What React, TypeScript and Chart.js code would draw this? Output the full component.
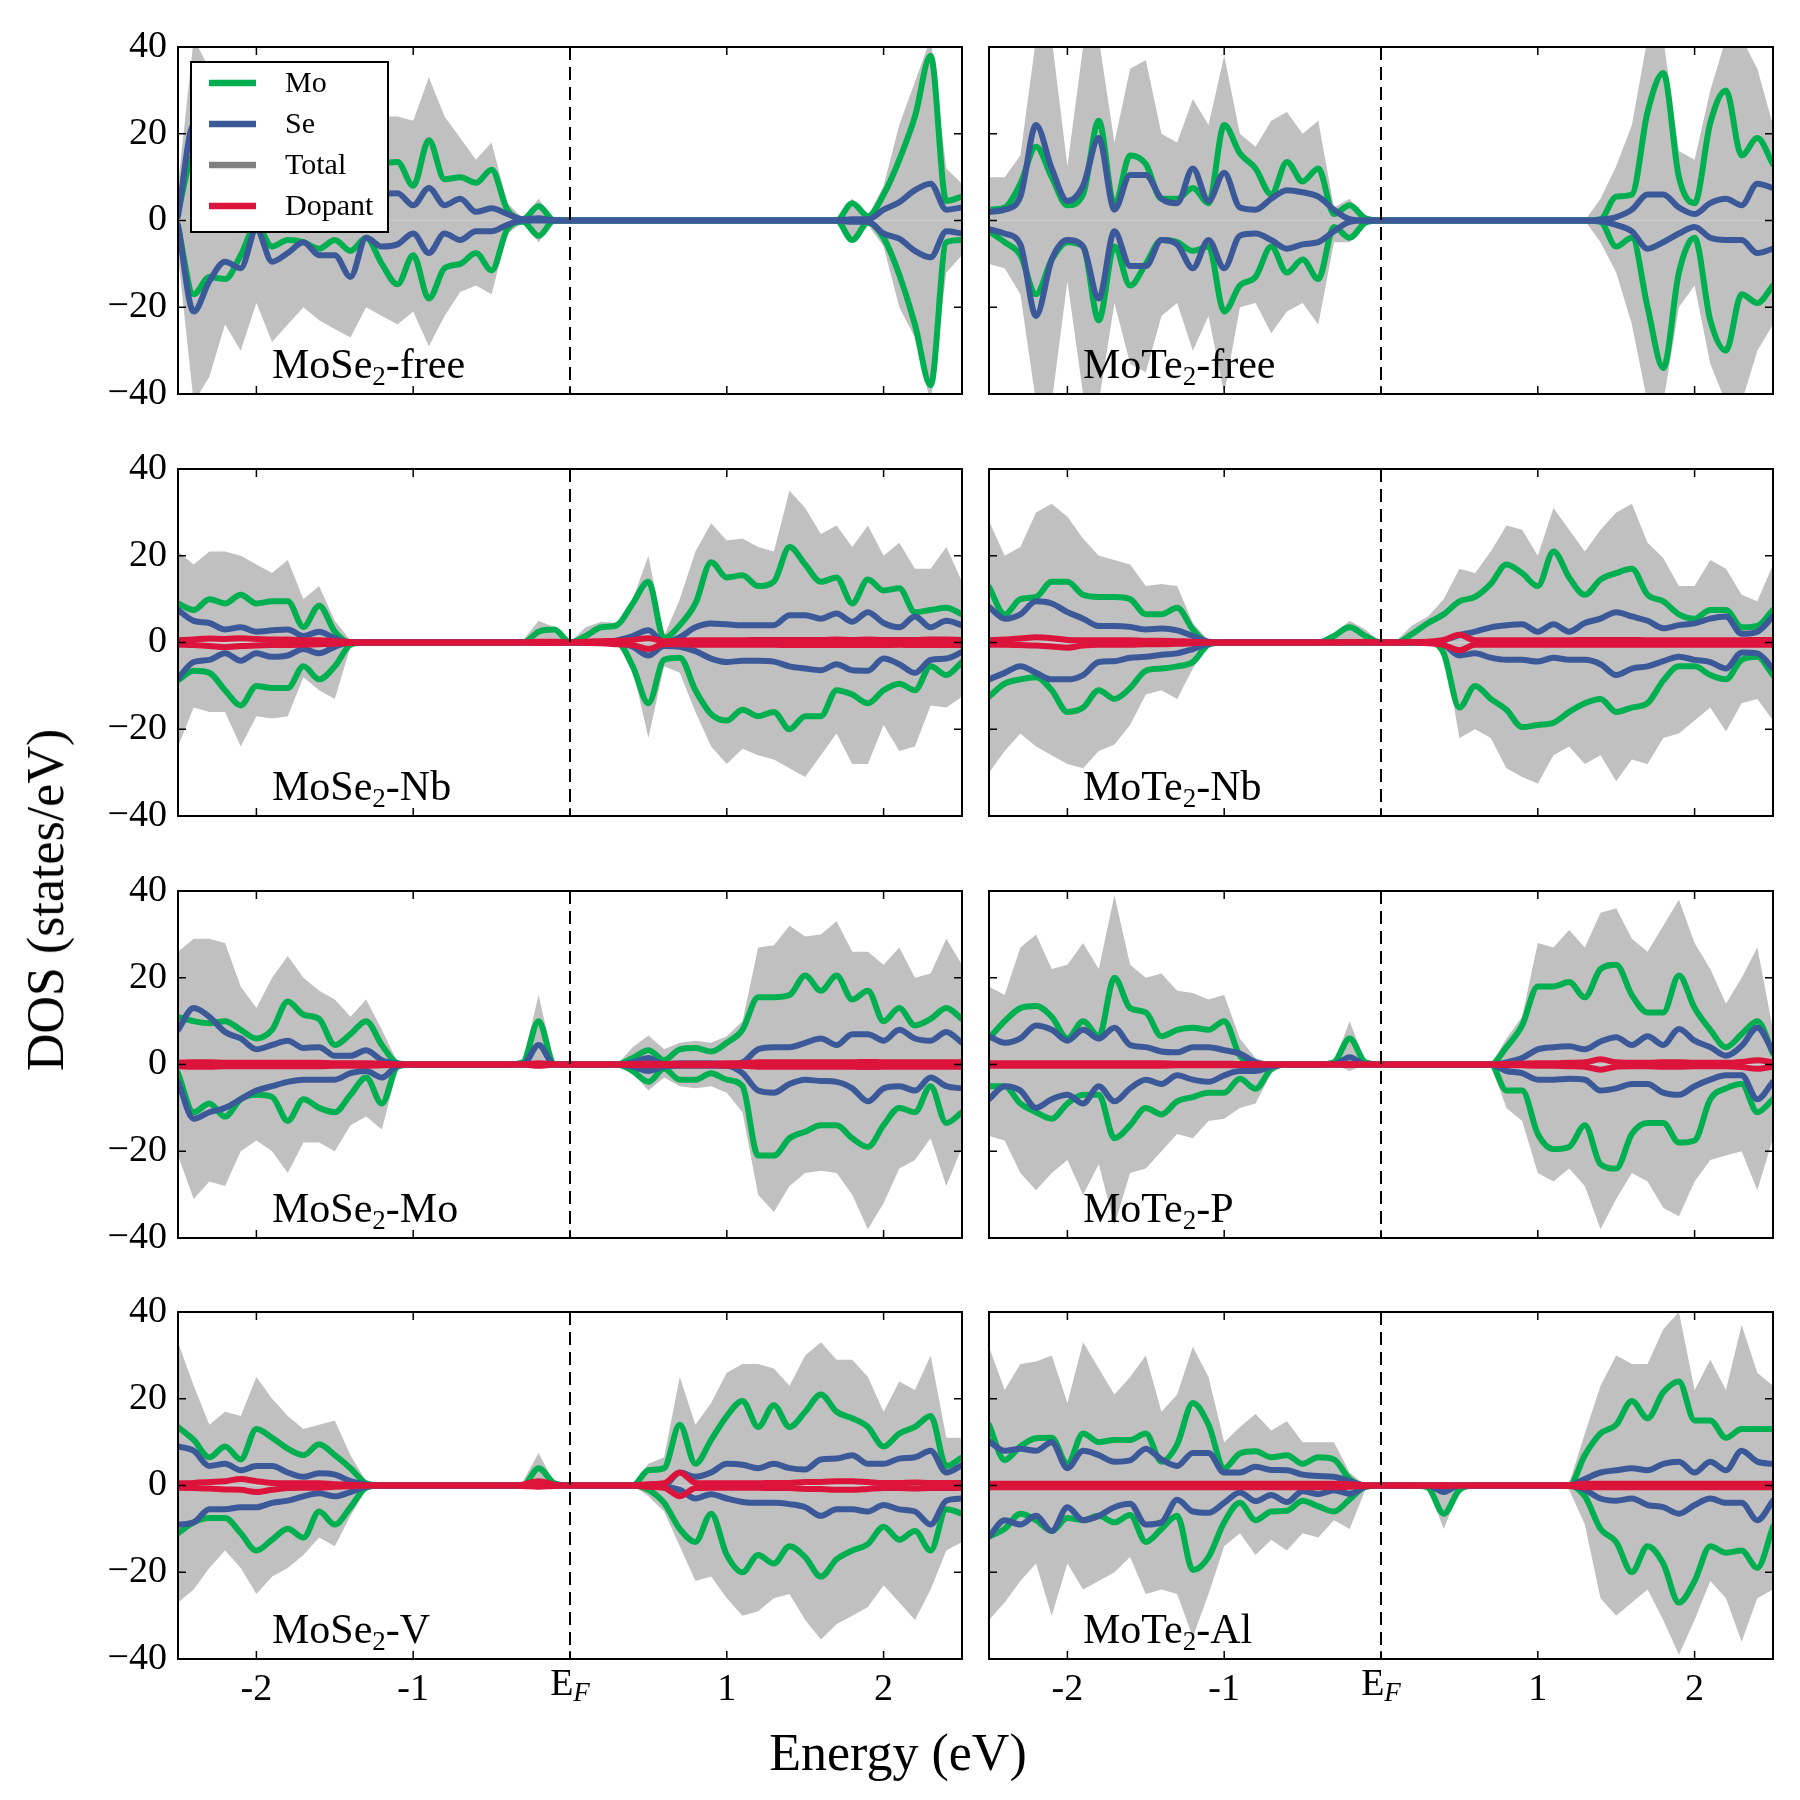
import { useEffect, useRef } from 'react';
import { Chart, registerables } from 'chart.js';

Chart.register(...registerables);

const FONT = "'Liberation Serif', 'Times New Roman', serif";
const MO_COLOR = '#00b050';
const SE_COLOR = '#3b5998';
const TOTAL_FILL = '#c0c0c0';
const TOTAL_LEGEND = '#808080';
const DOPANT_COLOR = '#dc143c';
const LINE_W = 6;

// Energy grid (eV, relative to the Fermi level)
const energies = [
  -2.5, -2.4, -2.3, -2.2, -2.1, -2.0, -1.9, -1.8, -1.7, -1.6,
  -1.5, -1.4, -1.3, -1.2, -1.1, -1.0, -0.9, -0.8, -0.7, -0.6,
  -0.5, -0.4, -0.3, -0.2, -0.1, 0.0, 0.1, 0.2, 0.3, 0.4,
  0.5, 0.6, 0.7, 0.8, 0.9, 1.0, 1.1, 1.2, 1.3, 1.4,
  1.5, 1.6, 1.7, 1.8, 1.9, 2.0, 2.1, 2.2, 2.3, 2.4, 2.5,
];

const xTickValues = [-2, -1, 0, 1, 2];
const yTickValues = [-40, -20, 0, 20, 40];
const legendNames = ['Mo', 'Se', 'Total', 'Dopant'];

// ---------- MoSe2-free ----------
const mose2FreeTotalUp = [
  8, 42, 35, 25, 28, 18, 26, 22, 20, 22,
  24, 26, 20, 24, 24, 23, 33, 24, 19, 14,
  18, 4, 0.5, 5, 0, 0, 0, 0, 0, 0,
  0, 0, 0, 0, 0, 0, 0, 0, 0, 0,
  0, 0, 0, 5, 1, 8, 22, 32, 42, 12, 8.5,
];
const mose2FreeTotalDown = [
  -8, -42, -36, -24, -30, -19, -28, -24, -20, -23,
  -25, -27, -20, -22, -24, -21, -29, -22, -16.5, -15,
  -17, -3, -0.5, -5, 0, 0, 0, 0, 0, 0,
  0, 0, 0, 0, 0, 0, 0, 0, 0, 0,
  0, 0, 0, -4, -1, -6, -20, -27, -42, -12, -8,
];
const mose2FreeMoUp = [
  2, 15, 12, 10, 8, 2, 6, 5, 6, 7,
  5, 8, 6, 13, 13.5, 8, 18.5, 9.5, 10, 8.7,
  11.7, 2.5, 0.3, 3.3, 0, 0, 0, 0, 0, 0,
  0, 0, 0, 0, 0, 0, 0, 0, 0, 0,
  0, 0, 0, 4, 1, 6, 14, 24, 38, 4.5, 5.5,
];
const mose2FreeMoDown = [
  -1.5, -17, -13, -13.5, -8, -1, -6, -4.5, -5, -6.5,
  -4.5, -7, -4, -10, -14.7, -8, -18, -11, -10, -7.5,
  -11.5, -2, -0.3, -3.5, 0, 0, 0, 0, 0, 0,
  0, 0, 0, 0, 0, 0, 0, 0, 0, 0,
  0, 0, 0, -4.5, -0.5, -4, -12.5, -24, -38, -5, -4.5,
];
const mose2FreeSeUp = [
  1, 22, 15, 12, 12, 2, 10, 8, 7, 8,
  6, 8, 5, 6, 6.3, 3.5, 7.5, 3.5, 5, 2,
  2.8, 1.5, 0.3, 0.5, 0, 0, 0, 0, 0, 0,
  0, 0, 0, 0, 0, 0, 0, 0, 0, 0,
  0, 0, 0, 0.3, 0.3, 2.5, 4.2, 7, 8.5, 2.5, 3,
];
const mose2FreeSeDown = [
  -1, -21, -14, -9.5, -11, -2, -9.5, -7.5, -5, -8,
  -8, -13, -4, -6, -5.5, -3, -7.5, -3, -4.5, -2.5,
  -2.5, -1, 0, 0, 0, 0, 0, 0, 0, 0,
  0, 0, 0, 0, 0, 0, 0, 0, 0, 0,
  0, 0, 0, -0.3, -0.3, -3, -4.2, -7, -8.5, -2.5, -3,
];

// ---------- MoTe2-free ----------
const mote2FreeTotalUp = [
  10, 10, 15, 42, 42, 12.5, 40, 42, 18, 35,
  37, 20, 18, 28, 22, 38, 20, 17, 23, 25,
  20, 23, 3, 5, 0.5, 0, 0, 0, 0, 0,
  0, 0, 0, 0, 0, 0, 0, 0, 0, 5,
  12.5, 22, 42, 42, 16, 14, 30, 42, 42, 35, 22,
];
const mote2FreeTotalDown = [
  -10, -11, -17, -42, -42, -14, -40, -42, -19, -33,
  -35, -22, -19, -30, -22, -40, -20, -19, -26, -21,
  -19, -24, -5, -5, -0.5, 0, 0, 0, 0, 0,
  0, 0, 0, 0, 0, 0, 0, 0, 0, -5,
  -12, -24, -42, -42, -20, -15, -33, -42, -42, -30, -24,
];
const mote2FreeMoUp = [
  2.5, 3, 8.5, 17, 10, 3.5, 6, 23, 3.5, 15,
  13, 5, 5, 7.5, 4, 22, 15.5, 12, 6, 13.5,
  9, 12, 1.5, 3.5, 0.5, 0, 0, 0, 0, 0,
  0, 0, 0, 0, 0, 0, 0, 0, 0, 0.3,
  5.5, 6, 25, 34, 10, 4, 22.5, 30, 15, 19, 13,
];
const mote2FreeMoDown = [
  -2.5, -5, -8, -17, -9, -5, -6, -23, -6, -15,
  -10, -4.5, -5, -7, -6, -21, -15, -13, -6, -12,
  -9, -13.5, -1.5, -4, -0.5, 0, 0, 0, 0, 0,
  0, 0, 0, 0, 0, 0, 0, 0, 0, -0.3,
  -6, -4, -20, -34, -12, -4, -23, -30, -17, -19, -15,
];
const mote2FreeSeUp = [
  2, 2.5, 5.5, 22, 12, 4.5, 8, 19, 2.5, 10.5,
  10.5, 5, 4, 12, 4.5, 11, 3, 2.5, 5, 7,
  6.5, 5.5, 2.5, 0.3, 0, 0, 0, 0, 0, 0,
  0, 0, 0, 0, 0, 0, 0, 0, 0, 0.2,
  0.8, 2.5, 6, 6, 3, 1.5, 4, 5, 3.5, 8.5, 7.5,
];
const mote2FreeSeDown = [
  -2, -3, -5.5, -22, -9, -4.5, -6, -18, -2.5, -10.5,
  -10.5, -4.5, -5.5, -11, -4.5, -11, -3.5, -3, -4.5, -6.5,
  -5.5, -5, -2.5, -0.3, 0, 0, 0, 0, 0, 0,
  0, 0, 0, 0, 0, 0, 0, 0, 0, -0.2,
  -1, -2.5, -6.5, -5, -3, -1.5, -4, -4.5, -4.5, -7.5, -6.5,
];

// ---------- MoSe2-Nb ----------
const mose2NbTotalUp = [
  21, 18, 21, 21, 20, 18, 16, 19, 10, 13,
  5, 0.5, 0, 0, 0, 0, 0, 0, 0, 0,
  0, 0, 0.5, 5, 3.5, 0, 3.5, 4.8, 4.5, 10,
  20, 1.5, 10, 21, 27.5, 23.5, 24, 22, 21, 35,
  31, 25, 27, 22, 27, 20, 23, 17, 17, 22, 14,
];
const mose2NbTotalDown = [
  -24, -15, -16, -16, -24, -17, -17.5, -17, -8, -11,
  -13, -1, 0, 0, 0, 0, 0, 0, 0, 0,
  0, 0, 0, 0, 0, 0, 0, 0, 0, -6,
  -22, -5.5, -7, -16, -24, -28, -24.5, -26, -27, -29,
  -31, -26, -21, -28, -28, -19, -25, -24, -14.5, -15, -12.5,
];
const mose2NbMoUp = [
  9, 7.5, 10, 9, 11, 9, 9.5, 9.5, 3.6, 8.5,
  2.5, 0, 0, 0, 0, 0, 0, 0, 0, 0,
  0, 0, 0, 2.5, 3, 0, 1.5, 3.5, 4, 9,
  14, 1, 4, 9, 18.5, 15, 15.5, 13, 14, 22,
  18, 14, 15, 9, 14.5, 12, 12.5, 7, 7.5, 8, 6.5,
];
const mose2NbMoDown = [
  -8.7, -6.5, -7, -11, -14.5, -10, -10.5, -10.5, -5.5, -8.5,
  -5.5, -0.5, 0, 0, 0, 0, 0, 0, 0, 0,
  0, 0, 0, 0, 0, 0, 0, 0, 0, -5.5,
  -14, -4, -3.5, -11, -16.5, -18, -15.5, -17, -16, -20,
  -17, -17, -11, -12, -14, -11, -9.5, -11, -5.5, -7.5, -4.5,
];
const mose2NbSeUp = [
  7.5, 5, 4.5, 3, 3.5, 2.5, 2.8, 3, 1.5, 2.5,
  1, 0, 0, 0, 0, 0, 0, 0, 0, 0,
  0, 0, 0, 0, 0, 0, 0, 0, 0.5, 1.5,
  2.8, 0, 1.2, 3.5, 4.4, 4.2, 4, 4, 4, 6.3,
  6.3, 5.5, 6.7, 4.8, 7, 4.5, 3.5, 6, 3.5, 5, 4,
];
const mose2NbSeDown = [
  -8.3, -4.5, -4, -2.5, -4.2, -2.5, -3.3, -3, -1.5, -2.5,
  -1, 0, 0, 0, 0, 0, 0, 0, 0, 0,
  0, 0, 0, 0, 0, 0, 0, 0, 0, -1,
  -3, -0.8, -1, -2, -3.7, -4.5, -4.2, -4.2, -4.4, -5.5,
  -6, -6.4, -5, -6.4, -6.5, -3.7, -5, -7, -4, -3.7, -2.2,
];
const mose2NbDopantUp = [
  0.5, 0.7, 0.9, 0.8, 1, 0.8, 0.7, 0.7, 0.5, 0.5,
  0.3, 0.1, 0, 0, 0, 0, 0, 0, 0, 0,
  0, 0, 0, 0.2, 0.2, 0, 0.2, 0.3, 0.4, 0.6,
  1, 0.3, 0.4, 0.5, 0.5, 0.5, 0.5, 0.6, 0.6, 0.6,
  0.6, 0.6, 0.7, 0.6, 0.7, 0.6, 0.6, 0.6, 0.7, 0.7, 0.6,
];
const mose2NbDopantDown = [
  -0.5, -0.6, -0.8, -1.1, -0.8, -0.7, -0.6, -0.6, -0.5, -0.4,
  -0.3, -0.1, 0, 0, 0, 0, 0, 0, 0, 0,
  0, 0, 0, -0.1, -0.1, 0, -0.1, -0.2, -0.4, -0.6,
  -1.5, -0.4, -0.4, -0.5, -0.5, -0.5, -0.5, -0.5, -0.5, -0.6,
  -0.6, -0.6, -0.6, -0.6, -0.6, -0.6, -0.5, -0.6, -0.6, -0.6, -0.6,
];

// ---------- MoTe2-Nb ----------
const mote2NbTotalUp = [
  28, 20, 22, 30, 32, 29, 24, 20, 19, 18,
  13, 13.5, 13, 4.5, 0.5, 0, 0, 0, 0, 0,
  0, 0, 2, 5, 3, 0, 0.5, 4, 6, 10,
  17, 16, 21, 27, 26, 20, 31, 26, 21, 26,
  30, 32, 23, 19.5, 13, 13, 19, 17, 11, 9.5, 18,
];
const mote2NbTotalDown = [
  -30, -25, -21, -24, -26, -28, -29, -25, -23.5, -19,
  -12, -11, -13, -6, -0.5, 0, 0, 0, 0, 0,
  0, 0, 0, 0, 0, 0, 0, 0, 0, -1,
  -22, -20, -22, -29, -31, -32.5, -26, -24, -28, -26,
  -32, -27, -28, -22, -21, -18, -15, -20.5, -14, -13, -18,
];
const mote2NbMoUp = [
  12.8, 6.5, 10, 10.5, 14, 14, 11, 10.5, 10.5, 10,
  6.5, 6.5, 8, 3, 0, 0, 0, 0, 0, 0,
  0, 0, 1.5, 3.5, 1.5, 0, 0, 2, 4.5, 6.5,
  9.5, 10.5, 13.5, 18, 16, 13, 21, 15, 11, 14.5,
  16, 17, 11, 9.5, 6.5, 5.5, 7.5, 7.5, 3.5, 3.8, 7.5,
];
const mote2NbMoDown = [
  -12.5, -9.5, -8.5, -8, -11, -16, -15, -11, -13, -10.5,
  -6.5, -6, -5.5, -4.5, -0.5, 0, 0, 0, 0, 0,
  0, 0, 0, 0, 0, 0, 0, 0, 0, -2.5,
  -15, -10, -13, -15.5, -19.5, -19, -18.5, -16, -14, -13,
  -16, -15, -14, -8.8, -5.5, -5.5, -7.5, -8.5, -4, -3.3, -7.5,
];
const mote2NbSeUp = [
  8.2, 5.5, 6.5, 9.5, 9, 7, 5.5, 3.8, 3.8, 3.6,
  3, 3.2, 2.8, 1.5, 0.2, 0, 0, 0, 0, 0,
  0, 0, 0, 0, 0, 0, 0, 0, 0, 0.5,
  1.7, 2.5, 3.5, 4, 4.2, 2.5, 4.2, 2.5, 4.5, 5.5,
  7, 6, 5, 3.3, 4, 4.4, 5.5, 6, 2, 2.5, 6,
];
const mote2NbSeDown = [
  -8.5, -7, -5.5, -7, -8.5, -8.5, -7.5, -4.5, -4.3, -3.5,
  -3.3, -2.8, -2.5, -1.5, -0.3, 0, 0, 0, 0, 0,
  0, 0, 0, 0, 0, 0, 0, 0, 0, -0.5,
  -3, -2.5, -3.5, -4, -4, -4.4, -3.5, -4, -4, -5,
  -7.5, -6, -5.5, -4.3, -3.3, -4, -4.5, -6, -2.3, -2.5, -6,
];
const mote2NbDopantUp = [
  0.5, 0.7, 0.9, 1.2, 1, 0.6, 0.5, 0.5, 0.5, 0.5,
  0.4, 0.4, 0.3, 0.2, 0, 0, 0, 0, 0, 0,
  0, 0, 0, 0.1, 0.1, 0, 0, 0.1, 0.2, 0.6,
  1.8, 0.5, 0.5, 0.5, 0.5, 0.5, 0.5, 0.5, 0.6, 0.6,
  0.6, 0.6, 0.5, 0.5, 0.5, 0.5, 0.5, 0.5, 0.5, 0.6, 0.6,
];
const mote2NbDopantDown = [
  -0.5, -0.5, -0.6, -0.7, -0.9, -1.2, -0.7, -0.5, -0.5, -0.5,
  -0.4, -0.4, -0.3, -0.2, 0, 0, 0, 0, 0, 0,
  0, 0, 0, 0, 0, 0, 0, 0, -0.2, -0.6,
  -1.8, -0.5, -0.5, -0.5, -0.5, -0.5, -0.5, -0.5, -0.5, -0.5,
  -0.5, -0.5, -0.5, -0.5, -0.5, -0.5, -0.5, -0.5, -0.5, -0.5, -0.5,
];

// ---------- MoSe2-Mo ----------
const mose2MoTotalUp = [
  26, 29, 29, 28, 18, 13, 20, 25, 20, 17,
  15, 11, 15, 8, 0.5, 0, 0, 0, 0, 0,
  0, 0, 1, 16, 0, 0, 0, 0, 0, 4,
  6.7, 3.5, 5, 5.5, 5, 6.5, 10, 27, 27.5, 32,
  29.5, 30, 33, 26, 26, 23, 27, 20, 21, 29, 23,
];
const mose2MoTotalDown = [
  -21, -31, -27, -28, -20, -17.5, -20, -25, -18, -18,
  -20, -14, -12, -15, -1, 0, 0, 0, 0, 0,
  0, 0, 0, -1, 0, 0, 0, 0, 0, -2,
  -6, -3, -5, -5.5, -5, -6.5, -11, -30, -34, -28,
  -25, -24.5, -25, -30, -38, -32, -24, -22, -17, -28, -19,
];
const mose2MoMoUp = [
  11, 10, 9.5, 10, 8, 6, 8, 14.5, 11.5, 10.5,
  4.5, 7, 10, 4.5, 0.3, 0, 0, 0, 0, 0,
  0, 0, 0.5, 10, 0, 0, 0, 0, 0, 1.5,
  3.3, 1, 3.5, 3.8, 3, 5, 8, 15.5, 15.5, 16,
  20.5, 17, 20.5, 15, 17, 10, 13, 9, 10.5, 13, 10.5,
];
const mose2MoMoDown = [
  -2, -11, -9, -12, -8, -7, -7.5, -13, -8, -10,
  -11, -7, -3, -9, -0.5, 0, 0, 0, 0, 0,
  0, 0, 0, 0, 0, 0, 0, 0, 0, -1.5,
  -4, -1, -3.5, -3.5, -2, -3.5, -5, -21, -21, -17,
  -15.5, -14, -14, -17, -19, -14, -10, -11, -5, -13.5, -11,
];
const mose2MoSeUp = [
  8, 13, 11, 7.5, 6, 3.5, 4.5, 5.5, 3.8, 4,
  2, 2, 3.3, 1, 0.2, 0, 0, 0, 0, 0,
  0, 0, 0, 4.5, 0, 0, 0, 0, 0, 0.5,
  1.5, 0, 0.3, 0.3, 0.3, 0, 0.5, 3.5, 4, 4,
  5, 6, 4.5, 7, 7, 5.5, 8, 6, 5.5, 7.5, 5,
];
const mose2MoSeDown = [
  -4, -12.5, -11, -10, -8, -6, -5, -4, -3.5, -3.5,
  -3.5, -2, -1.5, -3, -0.3, 0, 0, 0, 0, 0,
  0, 0, 0, 0, 0, 0, 0, 0, 0, -0.5,
  -1.5, -0.5, -0.3, -0.3, -0.3, -0.3, -2, -6, -6.5, -4.5,
  -3.5, -3.8, -4, -5.5, -8.5, -5.5, -5, -6, -3, -5, -5.5,
];
const mose2MoDopantUp = [
  0.4, 0.5, 0.5, 0.4, 0.4, 0.4, 0.4, 0.4, 0.4, 0.4,
  0.3, 0.3, 0.3, 0.2, 0, 0, 0, 0, 0, 0,
  0, 0, 0, 0.3, 0, 0, 0, 0, 0, 0.1,
  0.2, 0.1, 0.2, 0.2, 0.2, 0.3, 0.3, 0.5, 0.5, 0.5,
  0.5, 0.5, 0.5, 0.5, 0.6, 0.5, 0.5, 0.5, 0.5, 0.5, 0.5,
];
const mose2MoDopantDown = [
  -0.4, -0.5, -0.5, -0.4, -0.4, -0.4, -0.4, -0.4, -0.4, -0.4,
  -0.3, -0.3, -0.3, -0.2, 0, 0, 0, 0, 0, 0,
  0, 0, 0, -0.3, 0, 0, 0, 0, 0, -0.1,
  -0.2, -0.1, -0.2, -0.2, -0.2, -0.3, -0.3, -0.5, -0.5, -0.5,
  -0.5, -0.5, -0.5, -0.5, -0.6, -0.5, -0.5, -0.5, -0.5, -0.5, -0.5,
];

// ---------- MoTe2-P ----------
const mote2PTotalUp = [
  18, 16, 27, 30, 22, 23, 28, 22, 39, 23,
  20, 21, 17, 16.5, 15, 16, 6, 1.5, 0.3, 0,
  0, 0, 0.5, 10, 0.5, 0, 0, 0, 0, 0,
  0, 0, 0, 6, 11, 28, 27, 31, 27, 35,
  36, 29, 26, 32, 38, 28, 22, 14, 20, 27, 8,
];
const mote2PTotalDown = [
  -16.5, -17.5, -25, -29, -25, -22, -30, -23, -37, -25,
  -24, -20, -16, -17, -13, -12.5, -10, -9, -2, 0,
  0, 0, 0, -1.5, 0, 0, 0, 0, 0, 0,
  0, 0, 0, -10, -13, -25, -27, -24, -28, -38,
  -31, -25, -27, -33, -35, -27, -22, -21, -20, -29, -17,
];
const mote2PMoUp = [
  6, 10, 13, 13.5, 11, 6, 10, 6.5, 20, 13,
  12, 6.5, 8, 8.5, 8, 10, 2, 0, 0, 0,
  0, 0, 0.5, 6, 0.5, 0, 0, 0, 0, 0,
  0, 0, 0, 4, 9, 18, 18, 19, 15.5, 22,
  23, 16, 12, 12, 20.5, 13, 8, 4, 7, 10, 2.5,
];
const mote2PMoDown = [
  -5, -5, -9, -11, -12.5, -9, -7, -7, -17, -14,
  -10, -11.5, -8.5, -7.5, -6.5, -6.5, -3.3, -5.6, -1, 0,
  0, 0, 0, 0, 0, 0, 0, 0, 0, 0,
  0, 0, 0, -6, -6, -16, -19.5, -19, -14, -23,
  -24, -16, -13.5, -13.5, -18, -17.5, -8, -5.5, -4.5, -11, -8,
];
const mote2PSeUp = [
  6.5, 5, 6, 9, 8, 5.5, 8, 6, 8.5, 4.5,
  4, 3, 2.8, 4, 4, 3.3, 2.5, 0.5, 0, 0,
  0, 0, 0, 1.7, 0, 0, 0, 0, 0, 0,
  0, 0, 0, 0.5, 1.5, 3.5, 4, 4.2, 3.5, 5.3,
  6.3, 4.5, 6.5, 4.5, 8.2, 5.5, 4, 2, 4.3, 8.5, 3,
];
const mote2PSeDown = [
  -8, -5, -6, -10, -8, -7, -9, -5, -8.5, -5.5,
  -3.5, -4.5, -2.5, -3.5, -4, -2.5, -1.5, -1.5, -0.5, 0,
  0, 0, 0, 0, 0, 0, 0, 0, 0, 0,
  0, 0, 0, -1.5, -2, -3.5, -3.5, -3.3, -3.5, -6,
  -5.5, -4.5, -4.5, -6.5, -7, -5, -3.5, -2.5, -2.5, -8, -4,
];
const mote2PDopantUp = [
  0.3, 0.3, 0.3, 0.3, 0.3, 0.3, 0.3, 0.3, 0.3, 0.3,
  0.3, 0.3, 0.2, 0.2, 0.2, 0.2, 0.1, 0.1, 0, 0,
  0, 0, 0, 0.1, 0, 0, 0, 0, 0, 0,
  0, 0, 0, 0.1, 0.2, 0.3, 0.3, 0.4, 0.5, 1.2,
  0.5, 0.4, 0.4, 0.5, 0.5, 0.4, 0.4, 0.4, 0.6, 1, 0.5,
];
const mote2PDopantDown = [
  -0.3, -0.3, -0.3, -0.3, -0.3, -0.3, -0.3, -0.3, -0.3, -0.3,
  -0.3, -0.3, -0.2, -0.2, -0.2, -0.2, -0.1, -0.1, 0, 0,
  0, 0, 0, -0.1, 0, 0, 0, 0, 0, 0,
  0, 0, 0, -0.1, -0.2, -0.3, -0.3, -0.4, -0.5, -1.2,
  -0.5, -0.4, -0.4, -0.5, -0.5, -0.4, -0.4, -0.4, -0.6, -1, -0.5,
];

// ---------- MoSe2-V ----------
const mose2VTotalUp = [
  33, 23, 14, 17, 16, 25, 20, 16, 13, 14,
  15, 7, 1, 0, 0, 0, 0, 0, 0, 0,
  0, 0, 1, 7.5, 0.5, 0, 0, 0, 0, 0.5,
  5, 6.5, 25, 14, 19, 26, 28, 28, 27, 23,
  30, 33, 29, 29, 25, 17, 24, 22, 30, 11, 11,
];
const mose2VTotalDown = [
  -27, -24, -19, -15, -19, -25, -21, -19, -16, -12,
  -14, -7, -1, 0, 0, 0, 0, 0, 0, 0,
  0, 0, 0, -1, 0, 0, 0, 0, 0, 0,
  -2.5, -6, -14, -22, -21, -26, -30, -29, -26, -25,
  -31, -35.5, -32, -30, -28, -23, -27, -31, -24, -15, -13,
];
const mose2VMoUp = [
  13.5, 10.5, 6.5, 9, 6, 13, 11, 8.5, 7, 9.5,
  7, 4, 0.5, 0, 0, 0, 0, 0, 0, 0,
  0, 0, 0, 4, 0.5, 0, 0, 0, 0, 0,
  3.5, 4, 14, 5, 10.5, 16, 19.5, 13.5, 18.5, 13.5,
  17, 21, 17, 15.5, 13.5, 9, 12, 13.5, 16, 4.5, 6.5,
];
const mose2VMoDown = [
  -11, -8.5, -7.5, -7.5, -11, -15, -12.5, -10, -12, -6,
  -9, -5, -0.5, 0, 0, 0, 0, 0, 0, 0,
  0, 0, 0, 0, 0, 0, 0, 0, 0, 0,
  -1, -4, -10, -13, -6.5, -16, -20, -16, -18, -14,
  -16.5, -21, -17, -15, -13.5, -9.5, -12.5, -10.5, -15, -5.5, -6.5,
];
const mose2VSeUp = [
  9, 8, 4.5, 5, 3.5, 4.5, 4.5, 3, 2, 2.8,
  2.5, 1, 0.2, 0, 0, 0, 0, 0, 0, 0,
  0, 0, 0, 0, 0, 0, 0, 0, 0, 0,
  0, 0, 3, 2, 3, 5, 4.8, 4, 5, 4,
  3.7, 6, 6.2, 7, 5, 5, 6.2, 6.5, 8, 3, 4.7,
];
const mose2VSeDown = [
  -9, -8.5, -5.5, -5.5, -5, -5, -4, -3.5, -2.5, -1.8,
  -2.5, -1.5, -0.3, 0, 0, 0, 0, 0, 0, 0,
  0, 0, 0, 0, 0, 0, 0, 0, 0, 0,
  0, -0.3, -1, -3, -2, -3, -3.8, -4, -4, -4.3,
  -5, -7, -5.5, -5.5, -6, -4.5, -5.5, -6, -9, -3.5, -3,
];
const mose2VDopantUp = [
  0.5, 0.6, 0.8, 1, 1.5, 1, 0.6, 0.5, 0.5, 0.5,
  0.3, 0.2, 0, 0, 0, 0, 0, 0, 0, 0,
  0, 0, 0.2, 1, 0.2, 0, 0, 0, 0, 0,
  0.3, 0.5, 3, 0.6, 0.5, 0.5, 0.5, 0.5, 0.6, 0.6,
  0.8, 0.8, 1, 1, 0.8, 0.6, 0.6, 0.7, 0.6, 0.6, 0.6,
];
const mose2VDopantDown = [
  -0.5, -0.6, -0.7, -0.9, -1, -1.5, -1, -0.6, -0.5, -0.5,
  -0.3, -0.2, 0, 0, 0, 0, 0, 0, 0, 0,
  0, 0, -0.1, -0.3, -0.1, 0, 0, 0, 0, 0,
  -0.3, -0.5, -2.5, -0.6, -0.5, -0.5, -0.5, -0.5, -0.6, -0.6,
  -0.8, -0.8, -1, -1, -0.8, -0.6, -0.6, -0.7, -0.6, -0.6, -0.6,
];

// ---------- MoTe2-Al ----------
const mote2AlTotalUp = [
  32, 22, 28, 28.6, 30, 19, 33, 27, 21, 25,
  30, 17, 21, 32, 25, 10, 13.5, 16.5, 12.7, 14.8,
  10, 10, 10, 3, 0, 0, 0, 0, 0, 0,
  0, 0, 0, 0, 0, 0, 0, 0.5, 12, 23,
  30, 28, 28, 36, 40, 22, 29, 22, 37, 26, 23,
];
const mote2AlTotalDown = [
  -31, -27, -22, -18, -30, -18, -24, -22, -20, -16.5,
  -25, -24, -25, -35, -25, -14, -11, -16, -12.5, -15,
  -11, -12, -8, -10, -1, 0, 0, 0, -0.5, -10,
  -1, 0, 0, 0, 0, 0, 0, -1, -9, -26,
  -30, -27, -24, -31, -39, -31, -22, -26, -36, -26, -24,
];
const mote2AlMoUp = [
  14, 5.9, 9, 10.9, 11, 5, 12, 10, 10.5, 10.5,
  12, 5.5, 9.5, 19, 14, 4, 7.4, 7.9, 6.5, 7,
  5, 6.5, 6, 1.5, 0, 0, 0, 0, 0, 0,
  0, 0, 0, 0, 0, 0, 0, 0, 7, 12,
  14, 19.5, 15.5, 21.5, 24, 15, 15, 11, 13, 13, 13,
];
const mote2AlMoDown = [
  -11.8, -10, -6.5, -8, -10.5, -7.5, -8, -7, -8.5, -6.8,
  -13, -10, -7, -19.5, -16.5, -8.5, -4, -8, -6, -5.8,
  -3.5, -4.8, -6, -3.2, -0.3, 0, 0, 0, -0.5, -6.5,
  -1, 0, 0, 0, 0, 0, 0, 0, -2.5, -10,
  -13, -20, -14, -18, -27, -22, -14, -15.5, -15, -19, -9.5,
];
const mote2AlSeUp = [
  10.2, 8, 8.5, 8, 10, 4, 8, 7, 5.5, 5.8,
  8.5, 6, 4.5, 7.5, 7.5, 3, 3, 4.3, 3.6, 3.5,
  2.5, 2.2, 2, 1, 0, 0, 0, 0, 0, 0,
  0, 0, 0, 0, 0, 0, 0, 0, 1.5, 3,
  3.5, 4, 3.5, 5, 5.5, 3, 5.5, 3.5, 8, 5.5, 5,
];
const mote2AlSeDown = [
  -11.8, -8, -9, -7, -10.5, -5, -8, -7, -5, -4.2,
  -9, -8.5, -3.3, -6, -6.3, -4, -1.6, -3.6, -2.2, -3.8,
  -1.3, -2, -1.1, -1.9, -0.3, 0, 0, 0, 0, -1.5,
  0, 0, 0, 0, 0, 0, 0, 0, -1, -3,
  -3.5, -3, -4.5, -5, -6.5, -4.5, -3, -4, -4, -8, -3.5,
];
const mote2AlDopantUp = [
  0.4, 0.4, 0.4, 0.4, 0.4, 0.4, 0.4, 0.4, 0.4, 0.4,
  0.4, 0.4, 0.4, 0.4, 0.4, 0.4, 0.4, 0.4, 0.4, 0.4,
  0.4, 0.4, 0.4, 0.3, 0.1, 0, 0, 0, 0, 0.1,
  0, 0, 0, 0, 0, 0, 0, 0.1, 0.4, 0.4,
  0.4, 0.4, 0.4, 0.4, 0.4, 0.4, 0.4, 0.4, 0.4, 0.4, 0.4,
];
const mote2AlDopantDown = [
  -0.4, -0.4, -0.4, -0.4, -0.4, -0.4, -0.4, -0.4, -0.4, -0.4,
  -0.4, -0.4, -0.4, -0.4, -0.4, -0.4, -0.4, -0.4, -0.4, -0.4,
  -0.4, -0.4, -0.4, -0.3, -0.1, 0, 0, 0, 0, -0.1,
  0, 0, 0, 0, 0, 0, 0, -0.1, -0.4, -0.4,
  -0.4, -0.4, -0.4, -0.4, -0.4, -0.4, -0.4, -0.4, -0.4, -0.4, -0.4,
];

type Panel = {
  base: string;
  sub: string;
  tail: string;
  totalUp: number[];
  totalDown: number[];
  moUp: number[];
  moDown: number[];
  seUp: number[];
  seDown: number[];
  dopantUp?: number[];
  dopantDown?: number[];
};

const panels: Panel[] = [
  { base: 'MoSe', sub: '2', tail: '-free', totalUp: mose2FreeTotalUp, totalDown: mose2FreeTotalDown, moUp: mose2FreeMoUp, moDown: mose2FreeMoDown, seUp: mose2FreeSeUp, seDown: mose2FreeSeDown },
  { base: 'MoTe', sub: '2', tail: '-free', totalUp: mote2FreeTotalUp, totalDown: mote2FreeTotalDown, moUp: mote2FreeMoUp, moDown: mote2FreeMoDown, seUp: mote2FreeSeUp, seDown: mote2FreeSeDown },
  { base: 'MoSe', sub: '2', tail: '-Nb', totalUp: mose2NbTotalUp, totalDown: mose2NbTotalDown, moUp: mose2NbMoUp, moDown: mose2NbMoDown, seUp: mose2NbSeUp, seDown: mose2NbSeDown, dopantUp: mose2NbDopantUp, dopantDown: mose2NbDopantDown },
  { base: 'MoTe', sub: '2', tail: '-Nb', totalUp: mote2NbTotalUp, totalDown: mote2NbTotalDown, moUp: mote2NbMoUp, moDown: mote2NbMoDown, seUp: mote2NbSeUp, seDown: mote2NbSeDown, dopantUp: mote2NbDopantUp, dopantDown: mote2NbDopantDown },
  { base: 'MoSe', sub: '2', tail: '-Mo', totalUp: mose2MoTotalUp, totalDown: mose2MoTotalDown, moUp: mose2MoMoUp, moDown: mose2MoMoDown, seUp: mose2MoSeUp, seDown: mose2MoSeDown, dopantUp: mose2MoDopantUp, dopantDown: mose2MoDopantDown },
  { base: 'MoTe', sub: '2', tail: '-P', totalUp: mote2PTotalUp, totalDown: mote2PTotalDown, moUp: mote2PMoUp, moDown: mote2PMoDown, seUp: mote2PSeUp, seDown: mote2PSeDown, dopantUp: mote2PDopantUp, dopantDown: mote2PDopantDown },
  { base: 'MoSe', sub: '2', tail: '-V', totalUp: mose2VTotalUp, totalDown: mose2VTotalDown, moUp: mose2VMoUp, moDown: mose2VMoDown, seUp: mose2VSeUp, seDown: mose2VSeDown, dopantUp: mose2VDopantUp, dopantDown: mose2VDopantDown },
  { base: 'MoTe', sub: '2', tail: '-Al', totalUp: mote2AlTotalUp, totalDown: mote2AlTotalDown, moUp: mote2AlMoUp, moDown: mote2AlMoDown, seUp: mote2AlSeUp, seDown: mote2AlSeDown, dopantUp: mote2AlDopantUp, dopantDown: mote2AlDopantDown },
];

// Panel geometry (pixels on the page)
const PLOT_TOPS = [47, 469, 891, 1312];
const PLOT_LEFTS = [178, 989];
const PLOT_W = 784;
const PLOT_H = 347;
const PAD_TOP = 26;
const PAD_RIGHT = 6;

// Frame, inward ticks, Fermi-level marker, panel caption and legend
const dosFramePlugin = {
  id: 'dosFrame',
  afterDatasetsDraw(chart: any, _args: any, opts: any) {
    const { ctx, chartArea: a } = chart;
    const xs = chart.scales.x;
    const ys = chart.scales.y;
    ctx.save();

    // Fermi level
    const x0 = xs.getPixelForValue(0);
    ctx.strokeStyle = '#000';
    ctx.lineWidth = 2;
    ctx.setLineDash([13, 7]);
    ctx.beginPath();
    ctx.moveTo(x0, a.top);
    ctx.lineTo(x0, a.bottom);
    ctx.stroke();
    ctx.setLineDash([]);

    // inward tick marks on all four sides
    ctx.lineWidth = 1.5;
    ctx.beginPath();
    for (const v of xTickValues) {
      const px = xs.getPixelForValue(v);
      ctx.moveTo(px, a.top);
      ctx.lineTo(px, a.top + 8);
      ctx.moveTo(px, a.bottom);
      ctx.lineTo(px, a.bottom - 8);
    }
    for (const v of yTickValues) {
      const py = ys.getPixelForValue(v);
      ctx.moveTo(a.left, py);
      ctx.lineTo(a.left + 8, py);
      ctx.moveTo(a.right, py);
      ctx.lineTo(a.right - 8, py);
    }
    ctx.stroke();

    // axes frame
    ctx.lineWidth = 2;
    ctx.strokeRect(a.left, a.top, a.right - a.left, a.bottom - a.top);

    // caption, e.g. MoSe2-free with a subscript 2
    ctx.fillStyle = '#000';
    ctx.textAlign = 'left';
    ctx.textBaseline = 'alphabetic';
    let cx = a.left + 94;
    const cy = a.top + 331;
    ctx.font = `42px ${FONT}`;
    ctx.fillText(opts.base, cx, cy);
    cx += ctx.measureText(opts.base).width;
    ctx.font = `27px ${FONT}`;
    ctx.fillText(opts.sub, cx, cy + 7);
    cx += ctx.measureText(opts.sub).width;
    ctx.font = `42px ${FONT}`;
    ctx.fillText(opts.tail, cx, cy);

    // E_F tick label on the bottom row
    if (opts.showEF) {
      ctx.font = `38px ${FONT}`;
      const wE = ctx.measureText('E').width;
      ctx.font = `italic 27px ${FONT}`;
      const wF = ctx.measureText('F').width;
      const start = x0 - (wE + wF) / 2;
      const ly = a.bottom + 8 + 22.8;
      ctx.textBaseline = 'middle';
      ctx.font = `38px ${FONT}`;
      ctx.fillText('E', start, ly - 5);
      ctx.font = `italic 27px ${FONT}`;
      ctx.fillText('F', start + wE, ly + 4);
    }

    // legend
    if (opts.showLegend) {
      const bx = a.left + 13;
      const by = a.top + 15;
      ctx.fillStyle = '#fff';
      ctx.fillRect(bx, by, 197, 170);
      ctx.strokeStyle = '#000';
      ctx.lineWidth = 2;
      ctx.strokeRect(bx, by, 197, 170);
      const colors = [MO_COLOR, SE_COLOR, TOTAL_LEGEND, DOPANT_COLOR];
      ctx.font = `30px ${FONT}`;
      ctx.textBaseline = 'middle';
      legendNames.forEach((name, i) => {
        const ly = a.top + 36 + i * 41;
        ctx.strokeStyle = colors[i];
        ctx.lineWidth = 6.5;
        ctx.beginPath();
        ctx.moveTo(a.left + 31, ly);
        ctx.lineTo(a.left + 78, ly);
        ctx.stroke();
        ctx.fillStyle = '#000';
        ctx.fillText(name, a.left + 107, ly + 1);
      });
    }
    ctx.restore();
  },
};

function buildConfig(panel: Panel, col: number, row: number): any {
  const pts = (vals: number[]) => vals.map((v, i) => ({ x: energies[i], y: v }));
  const area = (vals: number[]) => ({
    data: pts(vals),
    borderWidth: 0,
    borderColor: 'rgba(0,0,0,0)',
    backgroundColor: TOTAL_FILL,
    fill: 'origin',
    pointRadius: 0,
    tension: 0,
    order: 10,
  });
  const line = (vals: number[], color: string, order: number) => ({
    data: pts(vals),
    borderColor: color,
    backgroundColor: color,
    borderWidth: LINE_W,
    borderJoinStyle: 'round',
    borderCapStyle: 'round',
    pointRadius: 0,
    fill: false,
    cubicInterpolationMode: 'monotone',
    order,
  });

  const datasets: any[] = [
    area(panel.totalUp),
    area(panel.totalDown),
    line(panel.moUp, MO_COLOR, 3),
    line(panel.moDown, MO_COLOR, 3),
    line(panel.seUp, SE_COLOR, 2),
    line(panel.seDown, SE_COLOR, 2),
  ];
  if (panel.dopantUp && panel.dopantDown) {
    datasets.push(line(panel.dopantUp, DOPANT_COLOR, 1));
    datasets.push(line(panel.dopantDown, DOPANT_COLOR, 1));
  }

  const yAxisW = col === 0 ? PLOT_LEFTS[0] : PAD_RIGHT;
  const xAxisH = row === 3 ? 70 : 26;

  return {
    type: 'line',
    data: { datasets },
    plugins: [dosFramePlugin],
    options: {
      responsive: false,
      animation: false,
      devicePixelRatio: 1,
      events: [],
      layout: { padding: { top: PAD_TOP, right: PAD_RIGHT, bottom: 0, left: 0 } },
      plugins: {
        legend: { display: false },
        tooltip: { enabled: false },
        dosFrame: {
          base: panel.base,
          sub: panel.sub,
          tail: panel.tail,
          showEF: row === 3,
          showLegend: row === 0 && col === 0,
        },
      },
      scales: {
        x: {
          type: 'linear',
          min: -2.5,
          max: 2.5,
          grid: { display: false, drawTicks: false },
          border: { display: false },
          afterBuildTicks: (s: any) => {
            s.ticks = xTickValues.map((v) => ({ value: v }));
          },
          afterFit: (s: any) => {
            s.height = xAxisH;
            s.paddingLeft = 0;
            s.paddingRight = 0;
          },
          ticks: {
            display: row === 3,
            padding: 8,
            autoSkip: false,
            maxRotation: 0,
            color: '#000',
            font: { family: FONT, size: 38 },
            callback: (v: number) => (v === 0 ? '' : v < 0 ? '-' + Math.abs(v) : String(v)),
          },
        },
        y: {
          type: 'linear',
          min: -40,
          max: 40,
          grid: { display: false, drawTicks: false },
          border: { display: false },
          afterBuildTicks: (s: any) => {
            s.ticks = yTickValues.map((v) => ({ value: v }));
          },
          afterFit: (s: any) => {
            s.width = yAxisW;
            s.paddingTop = 0;
            s.paddingBottom = 0;
          },
          ticks: {
            display: col === 0,
            padding: 11,
            color: '#000',
            font: { family: FONT, size: 38 },
            callback: (v: number) => (v < 0 ? '\u2212' + Math.abs(v) : String(v)),
          },
        },
      },
    },
  };
}

function DosPanel({ panel, index }: { panel: Panel; index: number }) {
  const ref = useRef<HTMLCanvasElement>(null);
  const col = index % 2;
  const row = Math.floor(index / 2);
  const left = col === 0 ? 0 : PLOT_LEFTS[1] - PAD_RIGHT;
  const width = col === 0 ? PLOT_LEFTS[0] + PLOT_W + PAD_RIGHT : PAD_RIGHT + PLOT_W + PAD_RIGHT;
  const top = PLOT_TOPS[row] - PAD_TOP;
  const height = PAD_TOP + PLOT_H + (row === 3 ? 70 : 26);

  useEffect(() => {
    if (!ref.current) return;
    const chart = new Chart(ref.current, buildConfig(panel, col, row));
    return () => chart.destroy();
  }, [panel, col, row]);

  return (
    <canvas
      ref={ref}
      width={width}
      height={height}
      style={{ position: 'absolute', left, top, width, height }}
    />
  );
}

export default function App() {
  return (
    <div
      style={{
        position: 'absolute',
        left: 0,
        top: 0,
        width: 1800,
        height: 1800,
        background: '#fff',
        overflow: 'hidden',
      }}
    >
      {panels.map((p, i) => (
        <DosPanel key={i} panel={p} index={i} />
      ))}
      <div
        style={{
          position: 'absolute',
          left: 46,
          top: 900,
          transform: 'translate(-50%, -50%) rotate(-90deg)',
          font: `52px ${FONT}`,
          whiteSpace: 'nowrap',
          lineHeight: 1,
          color: '#000',
        }}
      >
        DOS (states/eV)
      </div>
      <div
        style={{
          position: 'absolute',
          left: 898,
          top: 1753,
          transform: 'translate(-50%, -50%)',
          font: `52px ${FONT}`,
          whiteSpace: 'nowrap',
          lineHeight: 1,
          color: '#000',
        }}
      >
        Energy (eV)
      </div>
    </div>
  );
}
